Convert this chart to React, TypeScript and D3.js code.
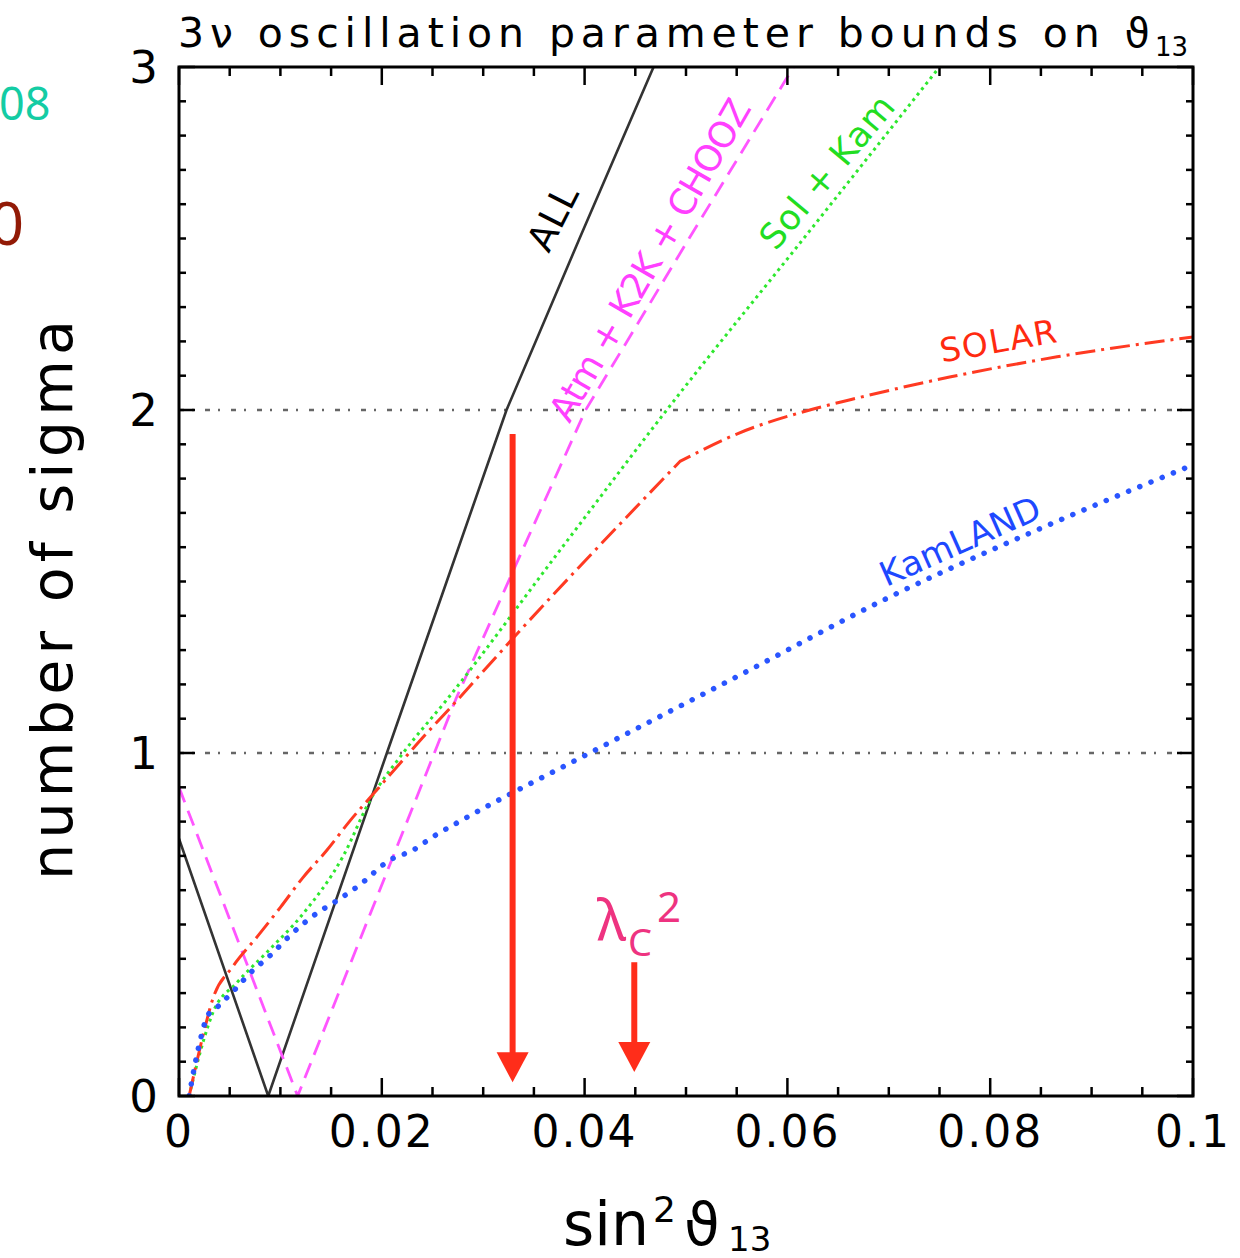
import React from 'react';
import * as d3 from 'd3';

const W = 1240;
const H = 1258;

// axis values
const xDomain: [number, number] = [0, 0.1];
const yDomain: [number, number] = [0, 3];
const xTickValues = [0, 0.02, 0.04, 0.06, 0.08, 0.1];
const xTickLabels = ['0', '0.02', '0.04', '0.06', '0.08', '0.1'];
const yTickValues = [0, 1, 2, 3];
const yTickLabels = ['0', '1', '2', '3'];
const sigmaLevels = [1, 2];

// curves: [sin^2 theta13, number of sigma]
const allCurve: [number, number][] = [
  [0, 0.75], [0.0088, 0], [0.0205, 1.0], [0.0264, 1.5], [0.0323, 2.0],
  [0.0395, 2.5], [0.0468, 3.0],
];
const atmCurve: [number, number][] = [
  [0, 0.9], [0.0117, 0], [0.0273, 1.157], [0.034, 1.6], [0.0401, 2.0],
  [0.0503, 2.5], [0.0606, 3.0],
];
const solKamCurve: [number, number][] = [
  [0.001, 0], [0.0024, 0.16], [0.0033, 0.24], [0.0057, 0.33], [0.0087, 0.42],
  [0.0122, 0.53], [0.0162, 0.7], [0.0188, 0.86], [0.0221, 1.0], [0.0264, 1.155],
  [0.0378, 1.6], [0.0481, 2.0], [0.0616, 2.5], [0.075, 3.0],
];
// SOLAR has a kink at the 6th-from-last... split into two smooth branches
const solarLow: [number, number][] = [
  [0.001, 0], [0.0024, 0.18], [0.0033, 0.28], [0.0053, 0.377], [0.0077, 0.464],
  [0.01, 0.55], [0.0122, 0.636], [0.0146, 0.717], [0.0168, 0.8], [0.0195, 0.892],
  [0.0221, 0.98], [0.0245, 1.06], [0.0267, 1.13], [0.0328, 1.33], [0.0494, 1.85],
];
const solarHigh: [number, number][] = [
  [0.0494, 1.85], [0.055, 1.93], [0.0622, 2.0], [0.0662, 2.03], [0.076, 2.096],
  [0.0866, 2.155], [0.1, 2.213],
];
const kamlandCurve: [number, number][] = [
  [0.001, 0], [0.0016, 0.096], [0.0021, 0.163], [0.0028, 0.233], [0.0038, 0.26],
  [0.0055, 0.31], [0.007, 0.358], [0.009, 0.41], [0.0112, 0.475], [0.0136, 0.533],
  [0.0156, 0.57], [0.0178, 0.615], [0.0208, 0.688], [0.0231, 0.717], [0.025, 0.755],
  [0.0274, 0.796], [0.0405, 1.0], [0.0555, 1.23], [0.0701, 1.455], [0.0846, 1.65],
  [0.1, 1.84],
];

// arrows: x, from sigma, to sigma
const arrows = [
  { x: 0.0329, from: 1.93, to: 0.04 },
  { x: 0.0449, from: 0.39, to: 0.07 },
];

const x = d3.scaleLinear().domain(xDomain).range([179, 1193]);
const y = d3.scaleLinear().domain(yDomain).range([1096, 67]);

const straight = d3.line<[number, number]>()
  .x(d => x(d[0]))
  .y(d => y(d[1]));
const smooth = d3.line<[number, number]>()
  .x(d => x(d[0]))
  .y(d => y(d[1]))
  .curve(d3.curveMonotoneX);

const font = "'DejaVu Sans', sans-serif";

const series = [
  { d: straight(allCurve), color: '#333', width: 2.6, dash: undefined as string | undefined, cap: 'butt' },
  { d: straight(atmCurve), color: '#ff55ff', width: 2.8, dash: '16 9', cap: 'butt' },
  { d: smooth(solKamCurve), color: '#2ee82e', width: 3, dash: '3 4', cap: 'butt' },
  { d: (smooth(solarLow) || '') + (smooth(solarHigh) || '').replace(/^M[^LC]*/, ''), color: '#ff3a22', width: 3, dash: '20 6 3 6', cap: 'butt' },
  { d: smooth(kamlandCurve), color: '#2a55ff', width: 5.5, dash: '0.1 12', cap: 'round' },
];

const labels = [
  { text: 'ALL', cx: 553, cy: 218, angle: -63, color: '#000', size: 37, len: 68 },
  { text: 'Atm + K2K + CHOOZ', cx: 650, cy: 260, angle: -60, color: '#ff40ff', size: 36, len: 365 },
  { text: 'Sol + Kam', cx: 827, cy: 172, angle: -50, color: '#22dd22', size: 35, len: 188 },
  { text: 'SOLAR', cx: 998, cy: 341, angle: -10, color: '#ff2a10', size: 33, len: 118 },
  { text: 'KamLAND', cx: 960, cy: 541, angle: -24, color: '#1e48ff', size: 34, len: 172 },
];

export default function App() {
  const minorX = d3.range(0, 21).map(i => i * 0.005);
  const minorY = d3.range(0, 31).map(i => i / 10);
  const isMajorX = (i: number) => i % 4 === 0;
  const isMajorY = (i: number) => i % 10 === 0;
  const [x0, x1] = x.range();
  const [y0, y1] = y.range();

  return (
    <svg width={W} height={H} style={{ position: 'absolute', left: 0, top: 0, background: '#fff' }}>
      <defs>
        <clipPath id="plot">
          <rect x={x0} y={y1} width={x1 - x0} height={y0 - y1} />
        </clipPath>
      </defs>

      {/* clipped slide fragments at left edge */}
      <text x={-1} y={120} fontFamily="'Noto Sans', sans-serif" fontSize={45} fill="#14cca4">08</text>
      <text x={24} y={245} textAnchor="end" fontFamily="'Noto Sans', sans-serif" fontSize={60} fill="#921a06">0</text>

      {/* title */}
      <text x={178} y={47} fontFamily={font} fontSize={41} fill="#000" textLength={972} lengthAdjust="spacing">
        3ν oscillation parameter bounds on ϑ
      </text>
      <text x={1155} y={56} fontFamily={font} fontSize={26} fill="#000">13</text>

      {/* sigma reference lines */}
      {sigmaLevels.map(s => (
        <line key={s} x1={x0} x2={x1} y1={y(s)} y2={y(s)} stroke="#666" strokeWidth={2.5} strokeDasharray="5 8 2 11" />
      ))}

      {/* curves */}
      <g clipPath="url(#plot)">
        {series.map((s, i) => (
          <path key={i} d={s.d || ''} fill="none" stroke={s.color} strokeWidth={s.width}
            strokeDasharray={s.dash} strokeLinecap={s.cap as any} strokeLinejoin="round" />
        ))}
      </g>

      {/* frame */}
      <rect x={x0} y={y1} width={x1 - x0} height={y0 - y1} fill="none" stroke="#000" strokeWidth={3} />

      {/* x ticks */}
      {minorX.map((v, i) => {
        const len = isMajorX(i) ? 18 : 9;
        return (
          <g key={'xt' + i} stroke="#000" strokeWidth={2.5}>
            <line x1={x(v)} x2={x(v)} y1={y0} y2={y0 - len} />
            <line x1={x(v)} x2={x(v)} y1={y1} y2={y1 + len} />
          </g>
        );
      })}
      {/* y ticks */}
      {minorY.map((v, i) => {
        const len = isMajorY(i) ? 16 : 7;
        return (
          <g key={'yt' + i} stroke="#000" strokeWidth={2.5}>
            <line x1={x0} x2={x0 + len} y1={y(v)} y2={y(v)} />
            <line x1={x1} x2={x1 - len} y1={y(v)} y2={y(v)} />
          </g>
        );
      })}

      {/* tick labels */}
      {xTickValues.map((v, i) => (
        <text key={'xl' + i} x={x(v)} y={1147} textAnchor="middle" fontFamily={font} fontSize={44}
          letterSpacing={2} fill="#000">{xTickLabels[i]}</text>
      ))}
      {yTickValues.map((v, i) => (
        <text key={'yl' + i} x={158} y={y(v) + 16} textAnchor="end" fontFamily={font} fontSize={45}
          fill="#000">{yTickLabels[i]}</text>
      ))}

      {/* axis titles */}
      <text transform="translate(72,600) rotate(-90)" textAnchor="middle" fontFamily={font} fontSize={57}
        fill="#000" textLength={560} lengthAdjust="spacing">number of sigma</text>
      <text x={563} y={1245} fontFamily={font} fontSize={60} fill="#000">sin</text>
      <text x={653} y={1222} fontFamily={font} fontSize={36} fill="#000">2</text>
      <text x={684} y={1245} fontFamily={font} fontSize={58} fill="#000">ϑ</text>
      <text x={728} y={1251} fontFamily={font} fontSize={34} fill="#000">13</text>

      {/* curve labels */}
      {labels.map((l, i) => (
        <text key={'lb' + i} transform={`translate(${l.cx},${l.cy}) rotate(${l.angle})`} textAnchor="middle"
          dominantBaseline="central" fontFamily={font} fontSize={l.size} fill={l.color}
          textLength={l.len} lengthAdjust="spacing">{l.text}</text>
      ))}

      {/* arrows */}
      {arrows.map((a, i) => {
        const ax = x(a.x);
        const tip = y(a.to);
        return (
          <g key={'ar' + i} fill="#ff2d1a" stroke="none">
            <rect x={ax - 3} y={y(a.from)} width={6} height={tip - 28 - y(a.from)} />
            <path d={`M${ax - 16},${tip - 30} L${ax + 16},${tip - 30} L${ax},${tip} Z`} />
          </g>
        );
      })}

      {/* lambda_c^2 */}
      <text x={597} y={940} fontFamily="'Noto Sans', sans-serif" fontSize={56} fill="#ee3380">λ</text>
      <text x={628} y={956} fontFamily="'Noto Sans', sans-serif" fontSize={38} fill="#ee3380">C</text>
      <text x={657} y={922} fontFamily="'Noto Sans', sans-serif" fontSize={42} fill="#ee3380">2</text>
    </svg>
  );
}
